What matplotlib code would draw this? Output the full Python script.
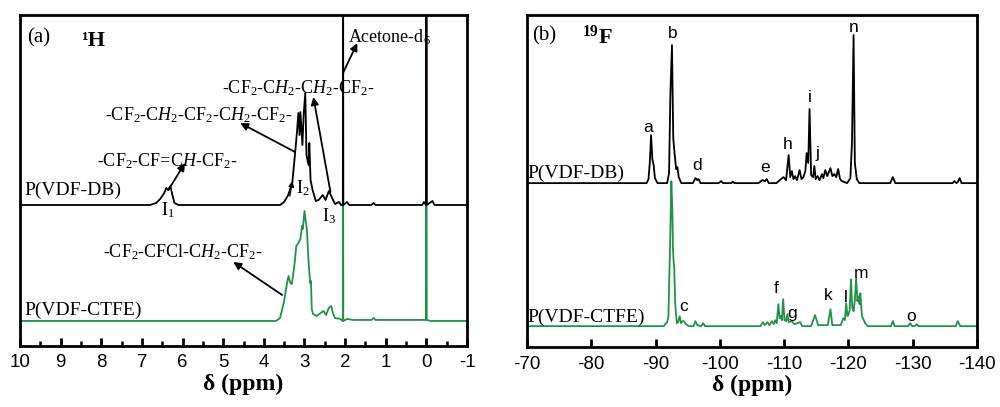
import matplotlib
matplotlib.use("Agg")
import matplotlib.pyplot as plt
import numpy as np

# ---------------- data ----------------
# 1H spectra: chemical shift (ppm) and intensity above each trace's baseline (arb. units)
H_PPM_DB = [10.2, 6.8, 6.65, 6.55, 6.45, 6.4, 6.35, 6.3, 6.25, 6.2, 6.1, 3.6, 3.5, 3.4, 3.3,
            3.23, 3.18, 3.15, 3.12, 3.1, 3.05, 3.02, 2.98, 2.95, 2.9, 2.88, 2.85, 2.8, 2.72,
            2.65, 2.55, 2.48, 2.4, 2.33, 2.25, 2.15, 2.1, 2.055, 2.05, 2.045, 1.95, 1.9, 1.35,
            1.3, 1.25, 0.1, 0.06, 0.01, 0.0, -0.01, -0.15, -0.2, -1.2]
H_INT_DB = [0, 0, 2, 6, 12, 17, 15, 19, 10, 2, 0, 0, 3, 10, 22,
            52, 75, 92, 70, 93, 60, 90, 112, 50, 40, 62, 25, 15, 4,
            5, 10, 5, 14, 8, 1, 3, 0, 0, 400, 0, 3, 0, 0,
            2, 0, 0, 3, 0, 400, 0, 4, 0, 0]

H_PPM_CTFE = [10.2, 3.7, 3.6, 3.5, 3.42, 3.39, 3.35, 3.31, 3.25, 3.2, 3.15, 3.1, 3.08, 3.06,
              3.04, 3.0, 2.97, 2.94, 2.9, 2.86, 2.84, 2.82, 2.79, 2.7, 2.6, 2.53, 2.47, 2.4,
              2.34, 2.3, 2.25, 2.12, 2.055, 2.05, 2.045, 1.95, 1.8, 1.35, 1.3, 1.25, 0.01, 0.0,
              -0.01, -0.1, -1.2]
H_INT_CTFE = [0, 0, 3, 20, 40, 45, 38, 37, 55, 75, 78, 82, 88, 95,
              92, 110, 100, 92, 60, 38, 40, 12, 7, 5, 8, 10, 6, 13,
              15, 8, 3, 2, 0, 400, 0, 2, 1, 1, 3, 1, 1, 400,
              1, 0, 0]

# 19F spectra
F_PPM_DB = [-69, -88.6, -88.9, -89.1, -89.3, -89.5, -89.7, -89.9, -90.3, -91.8, -92.1, -92.3,
            -92.55, -92.75, -92.95, -93.2, -93.4, -93.6, -94.0, -95.8, -96.2, -96.5, -96.7,
            -97.0, -99.8, -100.2, -100.5, -101.8, -102.0, -102.3, -106.0, -106.6, -107.0,
            -107.3, -107.6, -108.8, -109.3, -109.9, -110.3, -110.7, -110.95, -111.2, -111.45,
            -111.7, -112.0, -112.4, -112.7, -113.0, -113.3, -113.5, -113.75, -113.95, -114.2,
            -114.5, -114.7, -114.9, -115.2, -115.5, -115.9, -116.1, -116.4, -116.7, -117.2,
            -117.5, -117.8, -118.1, -118.4, -118.7, -119.0, -119.8, -120.3, -120.55, -120.8,
            -121.0, -121.3, -121.7, -126.5, -126.9, -127.3, -136.2, -136.5, -136.8, -137.0,
            -137.3, -137.6, -141]
F_INT_DB = [0, 0, 4, 20, 48, 24, 18, 5, 0, 0, 10, 88,
            138, 45, 30, 14, 16, 6, 0, 0, 5, 3, 4,
            0, 0, 2, 0, 0, 1.5, 0, 0, 3, 2,
            4, 0, 0, 3, 6, 3, 28, 6, 12, 4,
            7, 3, 13, 4, 6, 12, 30, 20, 74, 8,
            6, 17, 4, 7, 3, 9, 5, 13, 7, 15,
            7, 9, 6, 14, 4, 2, 0, 5, 40, 148,
            20, 4, 0, 0, 6, 0, 0, 2, 0, 1,
            5, 0, 0]

F_PPM_CTFE = [-69, -91.3, -91.6, -91.8, -92.0, -92.25, -92.45, -92.6, -92.7, -92.8, -92.9,
              -93.05, -93.3, -93.5, -93.75, -93.95, -94.2, -94.4, -94.7, -95.2, -95.9, -96.2,
              -96.5, -97.1, -97.4, -97.7, -106.3, -106.7, -107.0, -107.4, -107.7, -108.1,
              -108.4, -108.6, -108.85, -109.1, -109.3, -109.5, -109.65, -109.85, -110.05,
              -110.3, -110.5, -110.7, -111.2, -111.6, -112.5, -112.8, -114.2, -114.8, -115.3,
              -116.8, -117.2, -117.5, -118.8, -119.2, -119.45, -119.65, -119.85, -120.0,
              -120.2, -120.4, -120.6, -120.8, -121.0, -121.2, -121.4, -121.5, -121.7, -121.85,
              -122.1, -122.6, -123.0, -126.6, -126.9, -127.2, -129.3, -129.6, -129.9, -130.3,
              -130.6, -130.9, -136.7, -137.0, -137.4, -141]
F_INT_CTFE = [0, 0, 3, 4, 10, 80, 145, 120, 79, 65, 59,
              23, 3, 4, 10, 3, 5, 5, 2, 0, 0, 5,
              1, 0, 3, 0, 0, 4, 1, 4, 1, 5,
              2, 6, 3, 22, 8, 10, 6, 27, 6,
              5, 12, 4, 5, 2, 4, 0, 0, 11, 1,
              1, 17, 1, 1, 8, 6, 23, 10, 12,
              16, 47, 18, 15, 26, 48, 25, 30, 22, 33,
              10, 3, 0, 0, 5, 0, 0, 3, 0, 0,
              2, 0, 0, 5, 0, 0]

# 19F peak letters and their positions (ppm, height in axis units)
F_LABELS_DB = ["a", "b", "d", "e", "h", "i", "j", "n"]
F_LABEL_PPM_DB = [-88.8, -92.6, -96.4, -107.0, -110.6, -113.95, -115.1, -120.8]
F_LABEL_Y_DB = [220, 314, 182, 180, 203, 250, 194, 320]
F_LABELS_CTFE = ["c", "f", "g", "k", "l", "m", "o"]
F_LABEL_PPM_CTFE = [-94.35, -108.8, -111.3, -116.9, -119.65, -121.95, -129.8]
F_LABEL_Y_CTFE = [41, 59, 34, 52, 50, 74, 31]

H_TICKS = [10, 9, 8, 7, 6, 5, 4, 3, 2, 1, 0, -1]
F_TICKS = [-70, -80, -90, -100, -110, -120, -130, -140]

# ---------------- style ----------------
plt.rcParams["font.family"] = ["Liberation Serif", "DejaVu Serif"]
plt.rcParams["axes.unicode_minus"] = False
plt.rcParams["mathtext.fontset"] = "custom"
plt.rcParams["mathtext.rm"] = "Liberation Serif"
plt.rcParams["mathtext.it"] = "Liberation Serif:italic"
plt.rcParams["mathtext.bf"] = "Liberation Serif:bold"

GREEN = "#23904a"
SANS = "Liberation Sans"

fig = plt.figure(figsize=(10, 4.07), dpi=100)
axA = fig.add_axes([0.020, 0.150, 0.447, 0.813])
axB = fig.add_axes([0.527, 0.147, 0.450, 0.816])

for ax in (axA, axB):
    for s in ax.spines.values():
        s.set_linewidth(2.0)
        s.set_color("black")
    ax.tick_params(axis="x", direction="in", length=6, width=2, pad=6,
                   labelsize=13.5, top=False)
    ax.tick_params(axis="y", left=False, right=False, labelleft=False)

# ---------------- panel (a) 1H ----------------
OFF_A_CTFE, OFF_A_DB = 25, 141
axA.plot(H_PPM_CTFE, np.array(H_INT_CTFE) + OFF_A_CTFE, color=GREEN, lw=1.3)
axA.plot(H_PPM_DB, np.array(H_INT_DB) + OFF_A_DB, color="black", lw=1.3)
axA.set_xlim(10, -1)
axA.set_ylim(0, 331)
axA.set_xticks(H_TICKS)
axA.set_xticks(np.arange(9.5, -1, -1), minor=True)
axA.tick_params(axis="x", which="minor", direction="in", length=3.5, width=1.8, top=False)
axA.set_xticklabels([str(t) for t in H_TICKS], family=SANS, fontsize=13.5)
axA.set_xlabel("δ (ppm)", fontsize=17, fontweight="bold", labelpad=2)

axA.text(9.83, 308, "(a)", fontsize=15, va="center", ha="left")
axA.text(8.5, 305, "¹H", fontsize=16, fontweight="bold", va="center", ha="left")
axA.text(9.88, 151, "P(VDF-DB)", fontsize=14, va="baseline", ha="left")
axA.text(9.88, 31, "P(VDF-CTFE)", fontsize=14, va="baseline", ha="left")

arrow = dict(arrowstyle="-|>", lw=1.3, color="black", mutation_scale=11, shrinkA=0, shrinkB=0)
axA.text(1.92, 309, "Acetone-d$_6$", fontsize=13, va="center", ha="left")
axA.annotate("", xy=(1.70, 303), xytext=(2.04, 274), arrowprops=arrow)
axA.text(5.02, 258, "-CF$_2$-C$H_2$-C$H_2$-CF$_2$-", fontsize=13, va="center", ha="left")
axA.annotate("", xy=(2.78, 249), xytext=(2.36, 154), arrowprops=arrow)
axA.text(7.91, 231, "-CF$_2$-C$H_2$-CF$_2$-C$H_2$-CF$_2$-", fontsize=13, va="center", ha="left")
axA.annotate("", xy=(4.58, 223), xytext=(3.23, 194), arrowprops=arrow)
axA.text(8.10, 185, "-CF$_2$-CF=C$H$-CF$_2$-", fontsize=13, va="center", ha="left")
axA.annotate("", xy=(5.94, 183), xytext=(6.35, 156), arrowprops=arrow)
axA.text(7.96, 94, "-CF$_2$-CFCl-C$H_2$-CF$_2$-", fontsize=13, va="center", ha="left")
axA.annotate("", xy=(4.75, 84), xytext=(3.55, 51), arrowprops=arrow)
axA.annotate("", xy=(3.30, 165), xytext=(3.36, 150),
             arrowprops=dict(arrowstyle="-|>", lw=1.0, color="black", mutation_scale=8,
                             shrinkA=0, shrinkB=0))

axA.text(6.35, 136, "I$_1$", fontsize=13, va="center", ha="center")
axA.text(3.22, 158, "I$_2$", fontsize=13, va="center", ha="left")
axA.text(2.39, 130, "I$_3$", fontsize=13, va="center", ha="center")

# ---------------- panel (b) 19F ----------------
OFF_B_CTFE, OFF_B_DB = 21, 164
axB.plot(F_PPM_CTFE, np.array(F_INT_CTFE) + OFF_B_CTFE, color=GREEN, lw=1.3)
axB.plot(F_PPM_DB, np.array(F_INT_DB) + OFF_B_DB, color="black", lw=1.3)
axB.set_xlim(-70, -140)
axB.set_ylim(0, 332)
axB.set_xticks(F_TICKS)
axB.set_xticklabels([str(t) for t in F_TICKS], family=SANS, fontsize=13.5)
axB.set_xlabel("δ (ppm)", fontsize=17, fontweight="bold", labelpad=2)

axB.text(-70.8, 311.5, "(b)", fontsize=15, va="center", ha="left")
axB.text(-78.6, 310, r"$^{\mathbf{19}}\mathbf{F}$", fontsize=16, va="center", ha="left")
axB.text(-70.05, 169, "P(VDF-DB)", fontsize=14, va="baseline", ha="left")
axB.text(-70.05, 25, "P(VDF-CTFE)", fontsize=14, va="baseline", ha="left")

for lab, x, y in zip(F_LABELS_DB, F_LABEL_PPM_DB, F_LABEL_Y_DB):
    axB.text(x, y, lab, family=SANS, fontsize=12.5, ha="center", va="center")
for lab, x, y in zip(F_LABELS_CTFE, F_LABEL_PPM_CTFE, F_LABEL_Y_CTFE):
    axB.text(x, y, lab, family=SANS, fontsize=12.5, ha="center", va="center")

fig.savefig("out.png", dpi=100)
